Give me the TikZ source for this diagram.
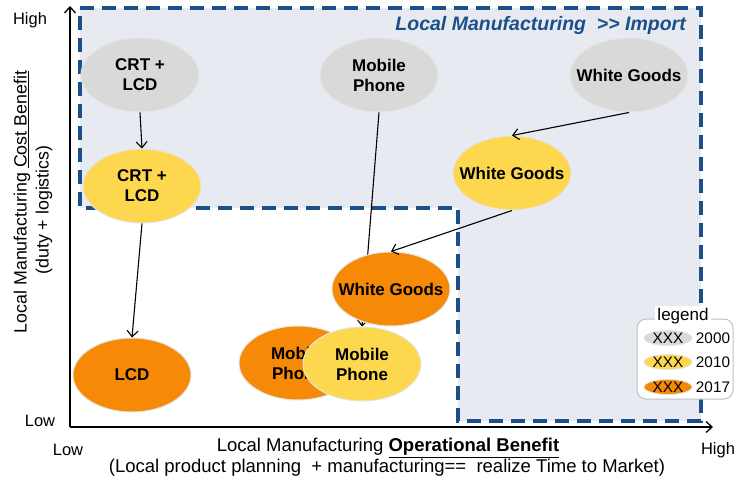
\documentclass[tikz,border=0pt]{standalone}
\usepackage{fontspec}
\setmainfont{Liberation Sans}
\usetikzlibrary{shapes.geometric,arrows.meta}
\definecolor{regfill}{HTML}{E7EAF1}
\definecolor{regline}{HTML}{1B4F8A}
\definecolor{cgray}{HTML}{D9D9D9}
\definecolor{cyel}{HTML}{FDD84F}
\definecolor{corg}{HTML}{F68A07}
\tikzset{
  ellbase/.style={ellipse, minimum width=118pt, minimum height=74pt, inner sep=0pt, draw=black!10, line width=1pt},
  gbub/.style={ellbase, fill=cgray},
  ybub/.style={ellbase, fill=cyel},
  obub/.style={ellbase, fill=corg},
  lbl/.style={font=\bfseries\fontsize{17}{18}\selectfont, align=center, inner sep=0pt},
  arr/.style={line width=1.1pt, -{Straight Barb[length=6pt,width=11pt]}},
  axis/.style={line width=1.3pt, -{Straight Barb[length=6pt,width=11pt]}},
  axtxt/.style={font=\fontsize{16.5}{19}\selectfont, inner sep=0pt},
  xtxt/.style={font=\fontsize{18.5}{21}\selectfont, inner sep=0pt},
  ytxt/.style={font=\fontsize{17.8}{21}\selectfont, inner sep=0pt, rotate=90},
  legell/.style={ellipse, minimum width=48pt, minimum height=15pt, inner sep=0pt, draw=black!10, line width=0.8pt},
  legtxt/.style={font=\fontsize{15.3}{18}\selectfont, inner sep=0pt}
}
\newcommand\bubble[4]{\node[#1] (#2) at (#3) {}; \node[lbl] (#2t) at (#2) {#4};}
\begin{document}
\begin{tikzpicture}[x=1pt,y=-1pt]
\useasboundingbox (0,0) rectangle (736,481);
% region
\fill[regfill] (80,8) -- (701,8) -- (701,421) -- (458,421) -- (458,208) -- (80,208) -- cycle;
\draw[regline, line width=3.3pt, dash pattern=on 14pt off 8pt] (80,8) -- (701,8) -- (701,421) -- (458,421) -- (458,208) -- (80,208) -- cycle;
\node[font=\bfseries\itshape\fontsize{19.5}{21}\selectfont, text=regline, anchor=east, inner sep=0pt] (title) at (686,25) {Local Manufacturing~~{>}{>} Import};
% axes
\coordinate (o) at (70,427);
\coordinate (ytop) at (70,6);
\coordinate (xend) at (713,427);
\draw[axis] (o) -- (ytop);
\draw[axis] (o) -- (xend);
\node[axtxt] (yhigh) at (30,20) {High};
\node[axtxt] (ylow) at (40,421) {Low};
\node[axtxt] (xlow) at (68,450) {Low};
\node[axtxt] (xhigh) at (718,450) {High};
\node[ytxt] (ylab1) at (22,202) {Local Manufacturing \underline{Cost Benefit}};
\node[ytxt] (ylab2) at (44,210) {(duty + logistics)};
\node[xtxt] (xlab1) at (388,448) {Local Manufacturing \textbf{\underline{Operational Benefit}}};
\node[xtxt] (xlab2) at (387,468) {(Local product planning~~+ manufacturing==~~realize Time to Market)};
% bubbles
\bubble{gbub}{crtG}{140,75}{CRT +\\[2pt]LCD}
\bubble{gbub}{mpG}{379,75}{Mobile\\[2pt]Phone}
\bubble{gbub}{wgG}{629,75}{White Goods}
\bubble{ybub}{crtY}{142,186}{CRT +\\[2pt]LCD}
\bubble{ybub}{wgY}{512,173}{White Goods}
\bubble{obub}{lcd}{132,375}{LCD}
\bubble{obub}{mpO}{298,363}{Mobile\\[2pt]Phone}
\bubble{ybub}{mpY}{362,364}{Mobile\\[2pt]Phone}
\draw[arr] (mpG.south) -- (mpY.north);
\bubble{obub}{wgO}{391,289}{White Goods}
% arrows
\draw[arr] (crtG.south) -- (crtY.north);
\draw[arr] (crtY.south) -- (lcd.north);
\draw[arr] (wgG.south) -- (wgY.north);
\draw[arr] (wgY.south) -- (wgO.north);
% legend
\draw[black!25, fill=white, line width=1pt, rounded corners=9pt] (637,319) rectangle (733,399);
\node[legtxt, font=\fontsize{17}{18}\selectfont, fill=white, inner sep=2pt] (legt) at (683,316) {legend};
\node[legell, fill=cgray] (l1) at (668,338) {};
\node[legtxt] (l1t) at (l1) {XXX};
\node[legell, fill=cyel] (l2) at (668,362) {};
\node[legtxt] (l2t) at (l2) {XXX};
\node[legell, fill=corg] (l3) at (668,387) {};
\node[legtxt] (l3t) at (l3) {XXX};
\node[legtxt] (y1) at (713,338) {2000};
\node[legtxt] (y2) at (713,362) {2010};
\node[legtxt] (y3) at (713,387) {2017};
\end{tikzpicture}
\end{document}
